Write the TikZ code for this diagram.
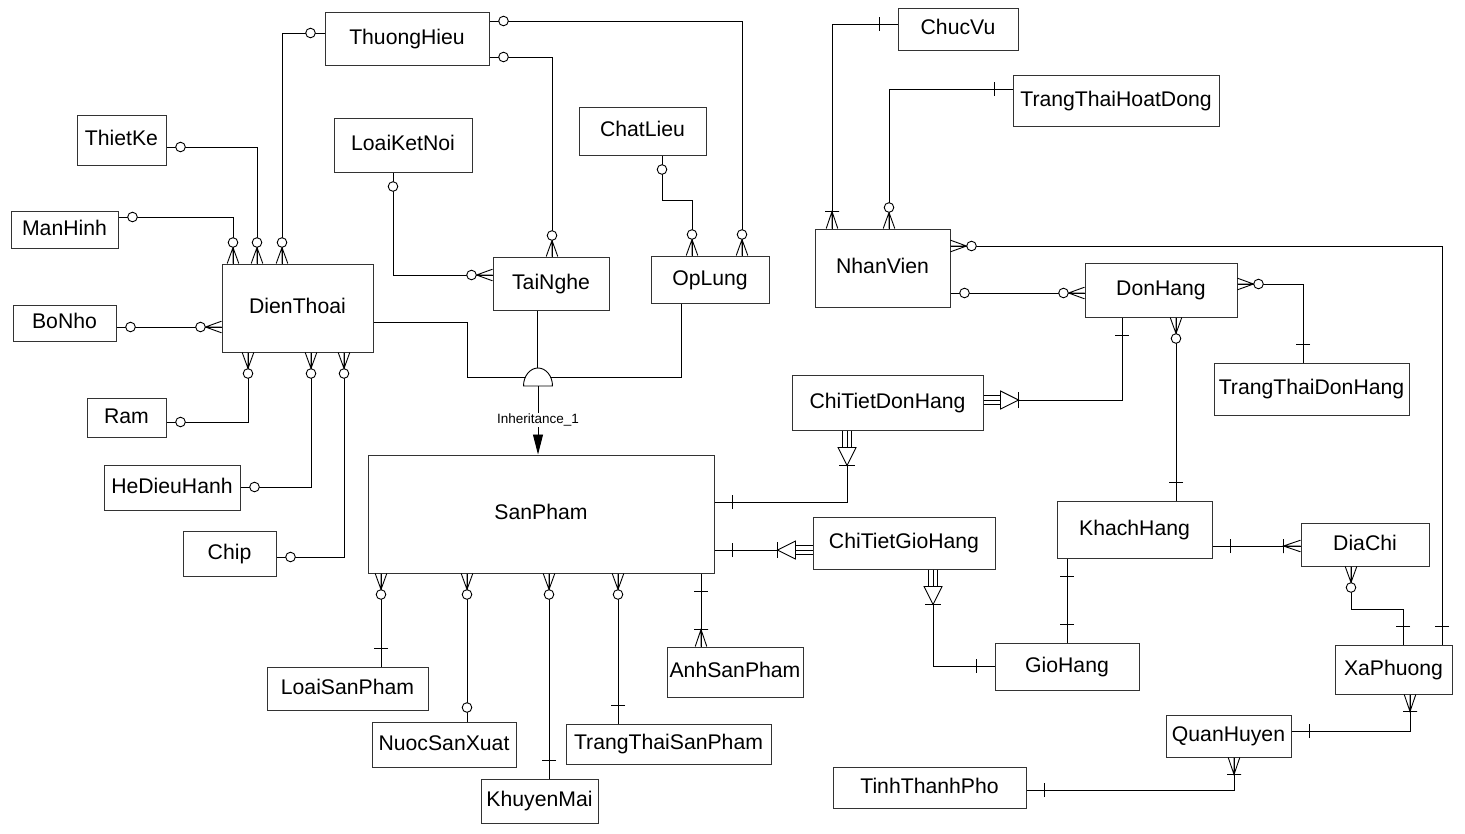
\documentclass[tikz,border=0pt]{standalone}
\usepackage{fontspec}
\setmainfont{Liberation Sans}
\usetikzlibrary{arrows.meta}
\tikzset{
  rel/.style={draw=black, line width=0.9pt},
  ent/.style={draw=black!80, line width=1pt, fill=white, inner sep=0pt,
    text height=15pt, text depth=4pt, font=\fontsize{21.2}{25}\selectfont},
  crowO/.pic={\draw[rel] (0,5.8)--(16,0)--(0,-5.8) (0,0)--(16,0);
              \draw[rel,fill=white] (21,0) circle[radius=4.8pt];},
  crowI/.pic={\draw[rel] (0,5.8)--(17,0)--(0,-5.8) (0,0)--(17,0) (17,7)--(17,-7);},
  mO/.pic={\draw[rel,fill=white] (14,0) circle[radius=4.8pt];},
  mI/.pic={\draw[rel] (18,7)--(18,-7);},
  dep/.pic={\draw[rel] (0,4.3)--(17,4.3) (0,0)--(17,0) (0,-4.3)--(17,-4.3);
            \draw[rel,fill=white] (17,9)--(35,0)--(17,-9)--cycle;
            \draw[rel] (35,8)--(35,-8);},
}
\newcommand\mkent[6]{\node[ent, minimum width={(#4-#2)*1pt}, minimum height={(#5-#3)*1pt}] (#1) at ({(#2+#4)/2},{(#3+#5)/2}) {#6};}
\newcommand\ermline[7]{\draw[rel] (#1) #2 (#3); \pic[rotate=#5] at (#1) {#4}; \pic[rotate=#7] at (#3) {#6};}
\begin{document}
\begin{tikzpicture}[x=1pt,y=-1pt]
\useasboundingbox (0,0) rectangle (1465,833);
% entities
\mkent{ThuongHieu}{325}{12}{489}{65}{ThuongHieu}
\mkent{LoaiKetNoi}{334}{118}{472}{172}{LoaiKetNoi}
\mkent{ChatLieu}{579}{107}{706}{155}{ChatLieu}
\mkent{ThietKe}{77}{115}{166}{165}{ThietKe}
\mkent{ManHinh}{11}{211}{118}{248}{ManHinh}
\mkent{BoNho}{13}{305}{116}{341}{BoNho}
\mkent{DienThoai}{222}{264}{373}{352}{DienThoai}
\mkent{Ram}{87}{398}{166}{437}{Ram}
\mkent{HeDieuHanh}{104}{465}{240}{510}{HeDieuHanh}
\mkent{Chip}{183}{531}{276}{576}{Chip}
\mkent{TaiNghe}{493}{257}{609}{310}{TaiNghe}
\mkent{OpLung}{651}{256}{769}{303}{OpLung}
\mkent{SanPham}{368}{455}{714}{573}{SanPham}
\mkent{LoaiSanPham}{267}{667}{428}{710}{LoaiSanPham}
\mkent{NuocSanXuat}{372}{722}{516}{767}{NuocSanXuat}
\mkent{KhuyenMai}{481}{779}{598}{823}{KhuyenMai}
\mkent{TrangThaiSanPham}{566}{724}{771}{764}{TrangThaiSanPham}
\mkent{AnhSanPham}{667}{647}{803}{697}{AnhSanPham}
\mkent{ChiTietDonHang}{792}{375}{983}{430}{ChiTietDonHang}
\mkent{ChiTietGioHang}{813}{517}{995}{569}{ChiTietGioHang}
\mkent{NhanVien}{815}{229}{950}{307}{NhanVien}
\mkent{ChucVu}{898}{8}{1018}{50}{ChucVu}
\mkent{TrangThaiHoatDong}{1013}{75}{1219}{126}{TrangThaiHoatDong}
\mkent{DonHang}{1085}{263}{1237}{317}{DonHang}
\mkent{TrangThaiDonHang}{1214}{363}{1409}{415}{TrangThaiDonHang}
\mkent{KhachHang}{1057}{501}{1212}{558}{KhachHang}
\mkent{DiaChi}{1301}{523}{1429}{566}{DiaChi}
\mkent{GioHang}{995}{643}{1139}{690}{GioHang}
\mkent{XaPhuong}{1335}{645}{1452}{694}{XaPhuong}
\mkent{QuanHuyen}{1166}{715}{1291}{757}{QuanHuyen}
\mkent{TinhThanhPho}{833}{767}{1026}{808}{TinhThanhPho}
% relationships
\ermline{ThuongHieu.west |- 0,33}{-|}{282,0 |- DienThoai.north}{mO}{180}{crowO}{90}
\ermline{ThietKe.east |- 0,147}{-|}{257,0 |- DienThoai.north}{mO}{0}{crowO}{90}
\ermline{ManHinh.east |- 0,217}{-|}{233,0 |- DienThoai.north}{mO}{0}{crowO}{90}
\ermline{BoNho.east |- 0,327}{--}{DienThoai.west |- 0,327}{mO}{0}{crowO}{180}
\ermline{Ram.east |- 0,422}{-|}{248,0 |- DienThoai.south}{mO}{0}{crowO}{270}
\ermline{HeDieuHanh.east |- 0,487}{-|}{311,0 |- DienThoai.south}{mO}{0}{crowO}{270}
\ermline{Chip.east |- 0,557}{-|}{344,0 |- DienThoai.south}{mO}{0}{crowO}{270}
\ermline{ThuongHieu.east |- 0,57}{-|}{552,0 |- TaiNghe.north}{mO}{0}{crowO}{90}
\ermline{ThuongHieu.east |- 0,21}{-|}{742,0 |- OpLung.north}{mO}{0}{crowO}{90}
\ermline{393,0 |- LoaiKetNoi.south}{|-}{TaiNghe.west |- 0,275}{mO}{270}{crowO}{180}
\ermline{662,0 |- ChatLieu.south}{-- (662,200) -|}{692,0 |- OpLung.north}{mO}{270}{crowO}{90}
\ermline{NhanVien.east |- 0,246}{-|}{1442,0 |- XaPhuong.north}{crowO}{0}{mI}{90}
\ermline{NhanVien.east |- 0,293}{--}{DonHang.west |- 0,293}{mO}{0}{crowO}{180}
\ermline{ChucVu.west |- 0,24}{-|}{832,0 |- NhanVien.north}{mI}{180}{crowI}{90}
\ermline{TrangThaiHoatDong.west |- 0,89}{-|}{889,0 |- NhanVien.north}{mI}{180}{crowO}{90}
\ermline{DonHang.east |- 0,284}{-|}{1303,0 |- TrangThaiDonHang.north}{crowO}{0}{mI}{90}
\ermline{1122,0 |- DonHang.south}{|-}{ChiTietDonHang.east |- 0,400}{mI}{270}{dep}{0}
\ermline{1176,0 |- DonHang.south}{--}{1176,0 |- KhachHang.north}{crowO}{270}{mI}{90}
\ermline{847,0 |- ChiTietDonHang.south}{|-}{SanPham.east |- 0,502}{dep}{270}{mI}{0}
\ermline{ChiTietGioHang.west |- 0,550}{--}{SanPham.east |- 0,550}{dep}{180}{mI}{0}
\ermline{933,0 |- ChiTietGioHang.south}{|-}{GioHang.west |- 0,666}{dep}{270}{mI}{180}
\ermline{1067,0 |- KhachHang.south}{--}{1067,0 |- GioHang.north}{mI}{270}{mI}{90}
\ermline{KhachHang.east |- 0,546}{--}{DiaChi.west |- 0,546}{mI}{0}{crowI}{180}
\ermline{1351,0 |- DiaChi.south}{-- (1351,609) -|}{1403,0 |- XaPhuong.north}{crowO}{270}{mI}{90}
\ermline{1410,0 |- XaPhuong.south}{|-}{QuanHuyen.east |- 0,731}{crowI}{270}{mI}{0}
\ermline{1234,0 |- QuanHuyen.south}{|-}{TinhThanhPho.east |- 0,790}{crowI}{270}{mI}{0}
\ermline{381,0 |- SanPham.south}{--}{381,0 |- LoaiSanPham.north}{crowO}{270}{mI}{90}
\ermline{467,0 |- SanPham.south}{--}{467,0 |- NuocSanXuat.north}{crowO}{270}{mO}{90}
\ermline{549,0 |- SanPham.south}{--}{549,0 |- KhuyenMai.north}{crowO}{270}{mI}{90}
\ermline{618,0 |- SanPham.south}{--}{618,0 |- TrangThaiSanPham.north}{crowO}{270}{mI}{90}
\ermline{701,0 |- SanPham.south}{--}{701,0 |- AnhSanPham.north}{mI}{270}{crowI}{90}
% inheritance
\coordinate (inhC) at (538,377);
\coordinate (inhB) at (538,386);
\draw[rel] (DienThoai.east |- 0,322) -| (467,377) -- (inhC);
\draw[rel] (681,0 |- OpLung.south) |- (inhC);
\draw[rel] (537,0 |- TaiNghe.south) -- (537,0 |- inhB);
\draw[rel, fill=white] (523.5,386) arc[start angle=180, end angle=0, x radius=14.5pt, y radius=18pt] -- cycle;
\draw[rel, -{Triangle[length=20pt,width=10pt]}] (inhB) -- (inhB |- SanPham.north);
\node[fill=white, inner sep=1pt, font=\fontsize{13.5}{15}\selectfont] (inhLabel) at (538,420) {Inheritance\_1};
\end{tikzpicture}
\end{document}
